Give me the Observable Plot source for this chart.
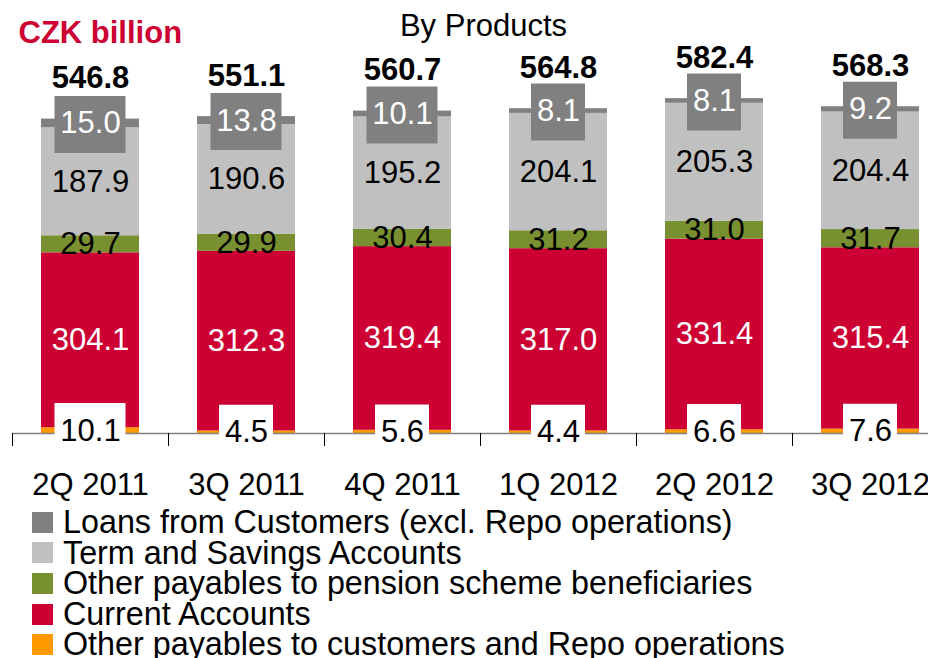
<!DOCTYPE html>
<html>
<head>
<meta charset="utf-8">
<script src="https://cdn.jsdelivr.net/npm/d3@7"></script>
<script src="https://cdn.jsdelivr.net/npm/@observablehq/plot@0.6"></script>
<style>
  html, body { margin: 0; padding: 0; background: #fff; overflow: hidden; }
  body { width: 928px; height: 658px; position: relative; font-family: "Liberation Sans", Arial, sans-serif; }
  #chart { position: absolute; left: 0; top: 0; width: 948px; }
  #chart svg { max-width: none !important; }
  #legend { position: absolute; left: 0; top: 507px; }
  .row { display: flex; align-items: center; height: 30.6px; white-space: nowrap; }
  .sw { width: 21px; height: 21px; margin-left: 32px; margin-right: 10px; flex: none; }
  .lab { font-size: 32.3px; line-height: 30.6px; color: #000; }
</style>
</head>
<body>
<div id="chart"></div>
<div id="legend"></div>
<script>
const quarters = ["2Q 2011", "3Q 2011", "4Q 2011", "1Q 2012", "2Q 2012", "3Q 2012"];
const seriesNames = [
  "Other payables to customers and Repo operations",
  "Current Accounts",
  "Other payables to pension scheme beneficiaries",
  "Term and Savings Accounts",
  "Loans from Customers (excl. Repo operations)"
];
const otherPayables   = [10.1, 4.5, 5.6, 4.4, 6.6, 7.6];
const currentAccounts = [304.1, 312.3, 319.4, 317.0, 331.4, 315.4];
const pensionPayables = [29.7, 29.9, 30.4, 31.2, 31.0, 31.7];
const termSavings     = [187.9, 190.6, 195.2, 204.1, 205.3, 204.4];
const loansCustomers  = [15.0, 13.8, 10.1, 8.1, 8.1, 9.2];
const totals          = [546.8, 551.1, 560.7, 564.8, 582.4, 568.3];

const seriesValues = [otherPayables, currentAccounts, pensionPayables, termSavings, loansCustomers];
const seriesColors = ["#FF9900", "#CC0033", "#789030", "#C0C0C0", "#808080"];
const labelColors  = ["#000000", "#FFFFFF", "#000000", "#000000", "#FFFFFF"];
const boxColors    = ["#FFFFFF", null, null, null, "#808080"];

const data = [];
seriesNames.forEach((s, si) => {
  quarters.forEach((q, qi) => {
    data.push({quarter: q, series: s, si, value: seriesValues[si][qi], label: seriesValues[si][qi].toFixed(1)});
  });
});
const totalData = quarters.map((q, i) => ({quarter: q, total: totals[i]}));

const FONT = "'Liberation Sans', Arial, sans-serif";
const FS = 31;

const boxStroke = (len) => d => (boxColors[d.si] && d.label.length === len) ? boxColors[d.si] : "none";

const chart = Plot.plot({
  width: 948,
  height: 505,
  marginTop: 88,
  marginBottom: 72,
  marginLeft: 12,
  marginRight: 0,
  style: {fontFamily: FONT, background: "#fff", overflow: "visible", maxWidth: "none"},
  x: {domain: quarters, paddingInner: 0.372, paddingOuter: 0.186},
  y: {domain: [0, 600], axis: null},
  color: {domain: seriesNames, range: seriesColors},
  marks: [
    Plot.barY(data, {x: "quarter", y: "value", z: "series", fill: "series"}),
    Plot.ruleY([0], {stroke: "#808080", strokeWidth: 1.5}),
    Plot.ruleX(quarters, {x: d => d, dx: -78, stroke: "#000", strokeWidth: 1, insetTop: 345, insetBottom: -13}),
    Plot.tickY(data, Plot.stackY({x: "quarter", y: "value", z: "series", stroke: boxStroke(4), strokeWidth: 57, insetLeft: 13.5, insetRight: 13.5, dy: 1})),
    Plot.tickY(data, Plot.stackY({x: "quarter", y: "value", z: "series", stroke: boxStroke(3), strokeWidth: 57, insetLeft: 22, insetRight: 22, dy: 1})),
    Plot.text(data, Plot.stackY({x: "quarter", y: "value", z: "series", text: "label", fill: d => labelColors[d.si], fontSize: FS})),
    Plot.text(totalData, {x: "quarter", y: "total", text: d => d.total.toFixed(1), dy: -41, fontSize: FS, fontWeight: "bold", fill: "#000"}),
    Plot.axisX({tickSize: 0, tickPadding: 39, fontSize: FS, label: null, fill: "#000"}),
    Plot.text(["CZK billion"], {frameAnchor: "top-left", lineAnchor: "middle", dx: 6, dy: -55, textAnchor: "start", fontSize: FS, fontWeight: "bold", fill: "#CC0033"}),
    Plot.text(["By Products"], {frameAnchor: "top", lineAnchor: "middle", dx: 3, dy: -62, fontSize: FS, fill: "#000"})
  ]
});
document.getElementById("chart").appendChild(chart);

const legend = document.getElementById("legend");
seriesNames.slice().reverse().forEach((name, i) => {
  const si = seriesNames.length - 1 - i;
  const row = document.createElement("div");
  row.className = "row";
  const sw = document.createElement("span");
  sw.className = "sw";
  sw.style.background = seriesColors[si];
  const lab = document.createElement("span");
  lab.className = "lab";
  lab.textContent = name;
  row.appendChild(sw);
  row.appendChild(lab);
  legend.appendChild(row);
});
</script>
</body>
</html>
